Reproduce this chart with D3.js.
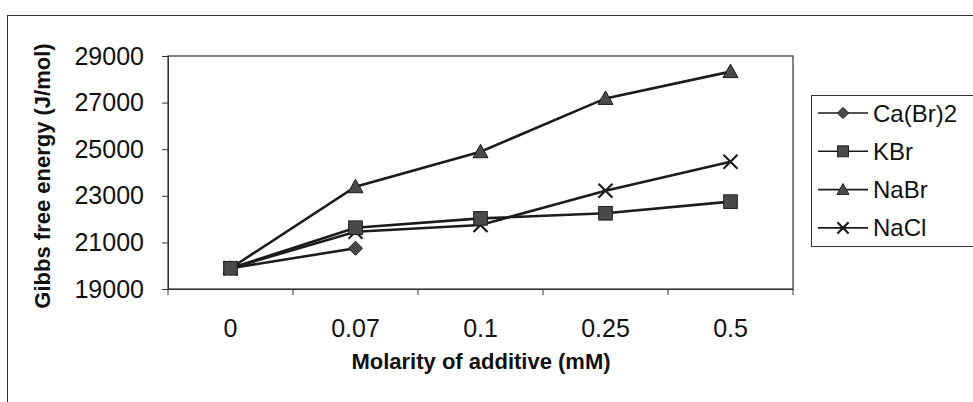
<!DOCTYPE html>
<html>
<head>
<meta charset="utf-8">
<script src="https://cdn.jsdelivr.net/npm/d3@7"></script>
<style>
  html, body { margin: 0; padding: 0; background: #fff; }
  svg { display: block; font-family: Arial, "Liberation Sans", sans-serif; }
</style>
</head>
<body>
<div id="container"></div>
<script>
// categories on the x axis
const categories = ["0", "0.07", "0.1", "0.25", "0.5"];
// y axis ticks
const yTicks = [19000, 21000, 23000, 25000, 27000, 29000];
// series (Ca(Br)2 only has two points)
const seriesNames = ["Ca(Br)2", "KBr", "NaBr", "NaCl"];
const caBr2 = [19890, 20750];
const kBr = [19890, 21630, 22030, 22250, 22750];
const naBr = [19890, 23390, 24890, 27180, 28330];
const naCl = [19890, 21460, 21750, 23220, 24460];
const symbols = ["diamond", "square", "triangle", "cross"];

const W = 973, H = 402;
const plot = { left: 168, right: 793, top: 56, bottom: 289 };
const ink = "#1c1c1c";
const fillGray = "#4a4a4a";

const svg = d3.select("#container").append("svg")
    .attr("width", W)
    .attr("height", H);

// outer frame (runs off the right and bottom)
svg.append("rect")
    .attr("x", 7.5).attr("y", 15.5)
    .attr("width", 1000).attr("height", 500)
    .attr("fill", "none").attr("stroke", "#333").attr("stroke-width", 1);

const x = d3.scaleBand().domain(categories).range([plot.left, plot.right]);
const y = d3.scaleLinear().domain([19000, 29000]).range([plot.bottom, plot.top]);

// plot border
svg.append("rect")
    .attr("x", plot.left).attr("y", plot.top)
    .attr("width", plot.right - plot.left).attr("height", plot.bottom - plot.top)
    .attr("fill", "none").attr("stroke", "#333").attr("stroke-width", 1.2);

// y axis
const yAxis = svg.append("g")
    .attr("transform", `translate(${plot.left},0)`)
    .call(d3.axisLeft(y).tickValues(yTicks).tickSize(6).tickPadding(18).tickFormat(d3.format("d")));
yAxis.select(".domain").attr("stroke", "#333");
yAxis.selectAll(".tick line").attr("stroke", "#333");
yAxis.selectAll("text")
    .attr("font-size", 25).attr("fill", "#111")
    .attr("font-family", "Arial, 'Liberation Sans', sans-serif");

// x axis: labels at centers, ticks at band edges
const xAxis = svg.append("g")
    .attr("transform", `translate(0,${plot.bottom})`)
    .call(d3.axisBottom(x).tickSize(0).tickPadding(30));
xAxis.select(".domain").attr("stroke", "#333");
xAxis.selectAll("text")
    .attr("font-size", 25).attr("fill", "#111")
    .attr("font-family", "Arial, 'Liberation Sans', sans-serif");
const edges = categories.map(c => x(c)).concat([x.range()[1]]);
svg.append("g").selectAll("line").data(edges).enter().append("line")
    .attr("x1", d => d).attr("x2", d => d)
    .attr("y1", plot.bottom).attr("y2", plot.bottom + 6)
    .attr("stroke", "#333");

// axis titles
svg.append("text")
    .attr("x", 481)
    .attr("y", 369)
    .attr("text-anchor", "middle")
    .attr("font-size", 22).attr("font-weight", "bold").attr("fill", "#111")
    .text("Molarity of additive (mM)");

svg.append("text")
    .attr("transform", "translate(50,176) rotate(-90)")
    .attr("text-anchor", "middle")
    .attr("font-size", 22).attr("font-weight", "bold").attr("fill", "#111")
    .text("Gibbs free energy (J/mol)");

// marker drawing
function drawMarker(g, type, cx, cy, scale) {
    const s = scale || 1;
    if (type === "diamond") {
        const r = 7 * s;
        g.append("path")
            .attr("d", `M${cx},${cy - r}L${cx + r},${cy}L${cx},${cy + r}L${cx - r},${cy}Z`)
            .attr("fill", fillGray).attr("stroke", ink).attr("stroke-width", 1);
    } else if (type === "square") {
        const r = 6.8 * s;
        g.append("rect")
            .attr("x", cx - r).attr("y", cy - r)
            .attr("width", 2 * r).attr("height", 2 * r)
            .attr("fill", fillGray).attr("stroke", ink).attr("stroke-width", 1);
    } else if (type === "triangle") {
        const r = 7.5 * s;
        g.append("path")
            .attr("d", `M${cx},${cy - r}L${cx + r},${cy + r * 0.8}L${cx - r},${cy + r * 0.8}Z`)
            .attr("fill", fillGray).attr("stroke", ink).attr("stroke-width", 1);
    } else {
        const r = 7 * s;
        g.append("path")
            .attr("d", `M${cx - r},${cy - r}L${cx + r},${cy + r}M${cx - r},${cy + r}L${cx + r},${cy - r}`)
            .attr("fill", "none").attr("stroke", ink).attr("stroke-width", 2.2 * Math.min(1, s + 0.2));
    }
}

const allSeries = [caBr2, kBr, naBr, naCl];
const line = d3.line()
    .x((d, i) => x(categories[i]) + x.bandwidth() / 2)
    .y(d => y(d));

const seriesG = svg.append("g");
allSeries.forEach((vals) => {
    seriesG.append("path")
        .datum(vals)
        .attr("d", line)
        .attr("fill", "none")
        .attr("stroke", ink)
        .attr("stroke-width", 2.6);
});
// squares last so they sit on top at the shared start point
[0, 3, 2, 1].forEach(k => {
    allSeries[k].forEach((v, i) => {
        drawMarker(seriesG, symbols[k], x(categories[i]) + x.bandwidth() / 2, y(v), 1);
    });
});

// legend
const legend = svg.append("g");
legend.append("rect")
    .attr("x", 811.5).attr("y", 95.5)
    .attr("width", 200).attr("height", 151)
    .attr("fill", "#fff").attr("stroke", "#333").attr("stroke-width", 1);
seriesNames.forEach((name, k) => {
    const ly = 113 + k * 38.3;
    legend.append("line")
        .attr("x1", 818).attr("x2", 868)
        .attr("y1", ly).attr("y2", ly)
        .attr("stroke", ink).attr("stroke-width", 1.6);
    drawMarker(legend, symbols[k], 843, ly, 0.8);
    legend.append("text")
        .attr("x", 873).attr("y", ly + 8.5)
        .attr("font-size", 24).attr("fill", "#111")
        .text(name);
});
</script>
</body>
</html>
